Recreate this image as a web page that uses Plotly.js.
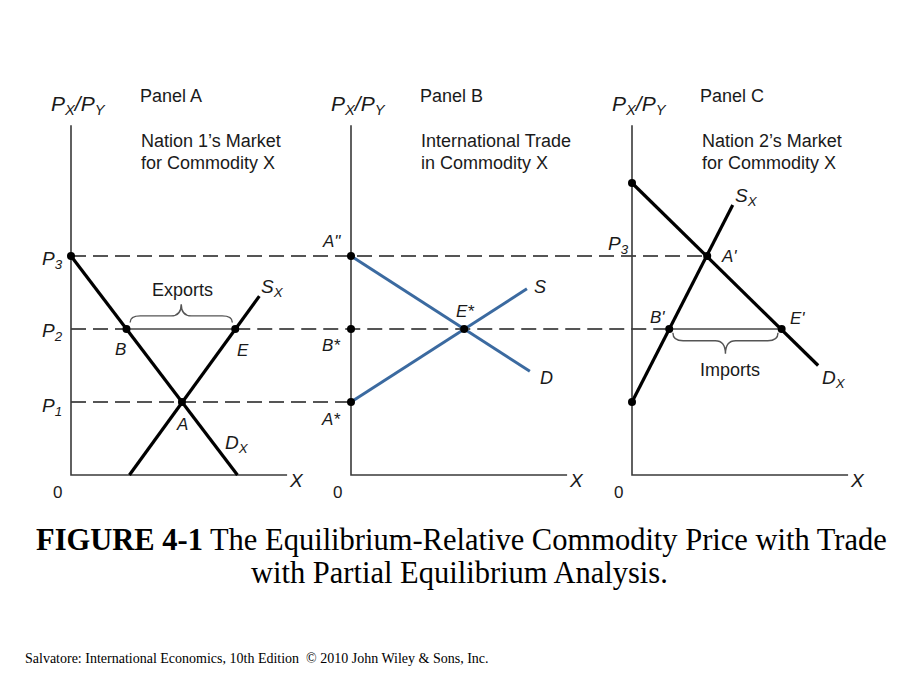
<!DOCTYPE html>
<html><head><meta charset="utf-8">
<script src="https://cdn.plot.ly/plotly-3.0.1.min.js"></script>
<style>html,body{margin:0;padding:0;background:#fff}#chart{width:920px;height:690px}</style>
</head><body><div id="chart"></div>
<script>
// ---------- DATA (local panel units: quantity X, relative price Px/Py) ----------
const priceLevels = [1, 2, 3];                       // P1, P2, P3
const priceSubs = ['1', '2', '3'];

// Panel A – Nation 1's market
const aDemandX = [0, 2.28];  const aDemandY = [3, 0];
const aSupplyX = [0.80, 2.58]; const aSupplyY = [0, 2.45];
const aPointNames = ['P3', 'B', 'A', 'E'];
const aPointX = [0, 0.76, 1.52, 2.25];
const aPointY = [3, 2, 1, 2];

// Panel B – international trade
const bDemandX = [0, 2.45];  const bDemandY = [3, 1.42];
const bSupplyX = [0, 2.41];  const bSupplyY = [1, 2.55];
const bPointNames = ['A"', 'B*', 'A*', 'E*'];
const bPointX = [0, 0, 0, 1.55];
const bPointY = [3, 2, 1, 2];

// Panel C – Nation 2's market
const cDemandX = [0, 2.55];  const cDemandY = [4, 1.5];
const cSupplyX = [0, 1.38];  const cSupplyY = [1, 3.7];
const cPointNames = ['Dtop', "A'", "B'", "E'", 'Sbot'];
const cPointX = [0, 1.03, 0.51, 2.05, 0];
const cPointY = [4, 3, 2, 2, 1];

// ---------- LAYOUT CONSTANTS ----------
const W = 920, H = 690;
const unit = 73;                 // px per data unit
const originPx = [71, 475];      // panel A origin in pixels
const panelOffset = [0, 280 / unit, 561 / unit];
const axisLenX = 2.96, axisLenY = 4.79;
const blue = '#3b6aa0';
const dashCol = '#555555';
const sans = 'Liberation Sans, Arial, sans-serif';
const serif = 'Liberation Serif, Times New Roman, serif';

const sh = (arr, p) => arr.map(v => v + panelOffset[p]);
const traces = [];
function line(x, y, color, width, dash) {
  traces.push({x, y, type: 'scatter', mode: 'lines', hoverinfo: 'skip',
    line: {color, width, dash: dash || 'solid'}, showlegend: false});
}
const dashPat = '15px,7px';
const [oA, oB, oC] = panelOffset;

// dashed price lines
line([oA, oC + cPointX[1]], [priceLevels[2], priceLevels[2]], dashCol, 1.8, dashPat);
line([oA, oA + aPointX[1]], [priceLevels[1], priceLevels[1]], dashCol, 1.8, dashPat);
line([oA + aPointX[1], oA + aPointX[3]], [priceLevels[1], priceLevels[1]], '#444', 1.4);
line([oA + aPointX[3], oC + cPointX[2]], [priceLevels[1], priceLevels[1]], dashCol, 1.8, dashPat);
line([oC + cPointX[2], oC + cPointX[3]], [priceLevels[1], priceLevels[1]], '#444', 1.4);
line([oA, oB], [priceLevels[0], priceLevels[0]], dashCol, 1.8, dashPat);

// axes
for (let p = 0; p < 3; p++) {
  const o = panelOffset[p];
  line([o, o, o + axisLenX], [axisLenY, 0, 0], '#3a3a3a', 1.6);
}

// curves
line(sh(aDemandX, 0), aDemandY, '#000', 3.2);
line(sh(aSupplyX, 0), aSupplyY, '#000', 3.2);
line(sh(bDemandX, 1), bDemandY, blue, 3);
line(sh(bSupplyX, 1), bSupplyY, blue, 3);
line(sh(cDemandX, 2), cDemandY, '#000', 3.2);
line(sh(cSupplyX, 2), cSupplyY, '#000', 3.2);

// points
traces.push({
  x: [...sh(aPointX, 0), ...sh(bPointX, 1), ...sh(cPointX, 2)],
  y: [...aPointY, ...bPointY, ...cPointY],
  text: [...aPointNames, ...bPointNames, ...cPointNames],
  type: 'scatter', mode: 'markers', hoverinfo: 'skip', showlegend: false,
  marker: {color: '#000', size: 8}
});

// braces (derived from B/E and B'/E')
function bracePath(x0, x1, y, e, b, t, r) {
  const xm = (x0 + x1) / 2;
  const ye = y + e, yb = y + b, yt = y + t;
  return `M ${x0},${ye} Q ${x0},${yb} ${x0 + r},${yb} L ${xm - r},${yb} Q ${xm},${yb} ${xm},${yt} ` +
         `Q ${xm},${yb} ${xm + r},${yb} L ${x1 - r},${yb} Q ${x1},${yb} ${x1},${ye}`;
}
const shapes = [
  {type: 'path', xref: 'x', yref: 'y', line: {color: '#555', width: 1.4},
   path: bracePath(oA + aPointX[1] + 0.05, oA + aPointX[3] - 0.04, priceLevels[1], 0.09, 0.18, 0.34, 0.14)},
  {type: 'path', xref: 'x', yref: 'y', line: {color: '#555', width: 1.4},
   path: bracePath(oC + cPointX[2] + 0.05, oC + cPointX[3] - 0.05, priceLevels[1], -0.05, -0.16, -0.34, 0.14)}
];

// text annotations (pixel positions)
const ann = [];
function txt(text, x, y, size, opts) {
  ann.push(Object.assign({text, x: x / W, y: 1 - y / H, xref: 'paper', yref: 'paper',
    showarrow: false, xanchor: 'center', yanchor: 'middle',
    font: {family: sans, size, color: '#1a1a1a'}}, opts || {}));
}
const sub = s => `<sub>${s}</sub>`;
const pxpy = '<i>P' + sub('X') + '/P' + sub('Y') + '</i>';
const priceLbl = i => '<i>P' + sub(priceSubs[i]) + '</i>';
const panelTitles = ['Panel A', 'Panel B', 'Panel C'];
const panelSub = [['Nation 1\u2019s Market', 'for Commodity X'],
                  ['International Trade', 'in Commodity X'],
                  ['Nation 2\u2019s Market', 'for Commodity X']];
for (let p = 0; p < 3; p++) {
  const ax = 71 + panelOffset[p] * unit;
  txt(pxpy, ax + 7, 105, 21);
  txt(panelTitles[p], ax + 100, 96, 18);
  txt(panelSub[p][0], ax + 68, 141, 18, {xanchor: 'left'});
  txt(panelSub[p][1], ax + 68, 163, 18, {xanchor: 'left'});
  txt('0', ax - 14, 492, 17);
  txt('<i>X</i>', ax + 225, 480, 19);
}
// Panel A labels
txt(priceLbl(2), 52, 260, 19);
txt(priceLbl(1), 52, 332, 19);
txt(priceLbl(0), 52, 407, 19);
txt('<i>B</i>', 121, 349, 17);
txt('<i>E</i>', 243, 350, 17);
txt('<i>A</i>', 182, 424, 17);
txt('<i>D' + sub('X') + '</i>', 237, 444, 19);
txt('<i>S' + sub('X') + '</i>', 272, 288, 19);
txt('Exports', 182, 290, 18);
// Panel B labels
txt('<i>A"</i>', 331, 241, 17);
txt('<i>B*</i>', 331, 345, 17);
txt('<i>A*</i>', 331, 419, 17);
txt('<i>E*</i>', 465, 311, 17);
txt('<i>S</i>', 540, 287, 18);
txt('<i>D</i>', 546, 378, 18);
// Panel C labels
txt(priceLbl(2), 618, 245, 19);
txt('<i>S' + sub('X') + '</i>', 746, 197, 19);
txt("<i>A'</i>", 729, 256, 17);
txt("<i>B'</i>", 657, 317, 17);
txt("<i>E'</i>", 797, 318, 17);
txt('Imports', 730, 370, 18);
txt('<i>D' + sub('X') + '</i>', 834, 379, 19);

// caption + footer
txt('<b>FIGURE 4-1</b> The Equilibrium-Relative Commodity Price with Trade', 461, 540, 30,
    {font: {family: serif, size: 30.5, color: '#000'}});
txt('with Partial Equilibrium Analysis.', 459, 573, 30,
    {font: {family: serif, size: 30.5, color: '#000'}});
txt('Salvatore: International Economics, 10th Edition \u00A0\u00A9 2010 John Wiley & Sons, Inc.', 23, 658, 14,
    {xanchor: 'left', font: {family: serif, size: 14, color: '#000'}});

const layout = {
  width: W, height: H, margin: {l: 0, r: 0, t: 0, b: 0},
  paper_bgcolor: '#fff', plot_bgcolor: '#fff', showlegend: false,
  xaxis: {range: [-originPx[0] / unit, (W - originPx[0]) / unit], visible: false, fixedrange: true},
  yaxis: {range: [-(H - originPx[1]) / unit, originPx[1] / unit], visible: false, fixedrange: true},
  shapes, annotations: ann
};
Plotly.newPlot('chart', traces, layout, {staticPlot: true, displayModeBar: false});
</script></body></html>
